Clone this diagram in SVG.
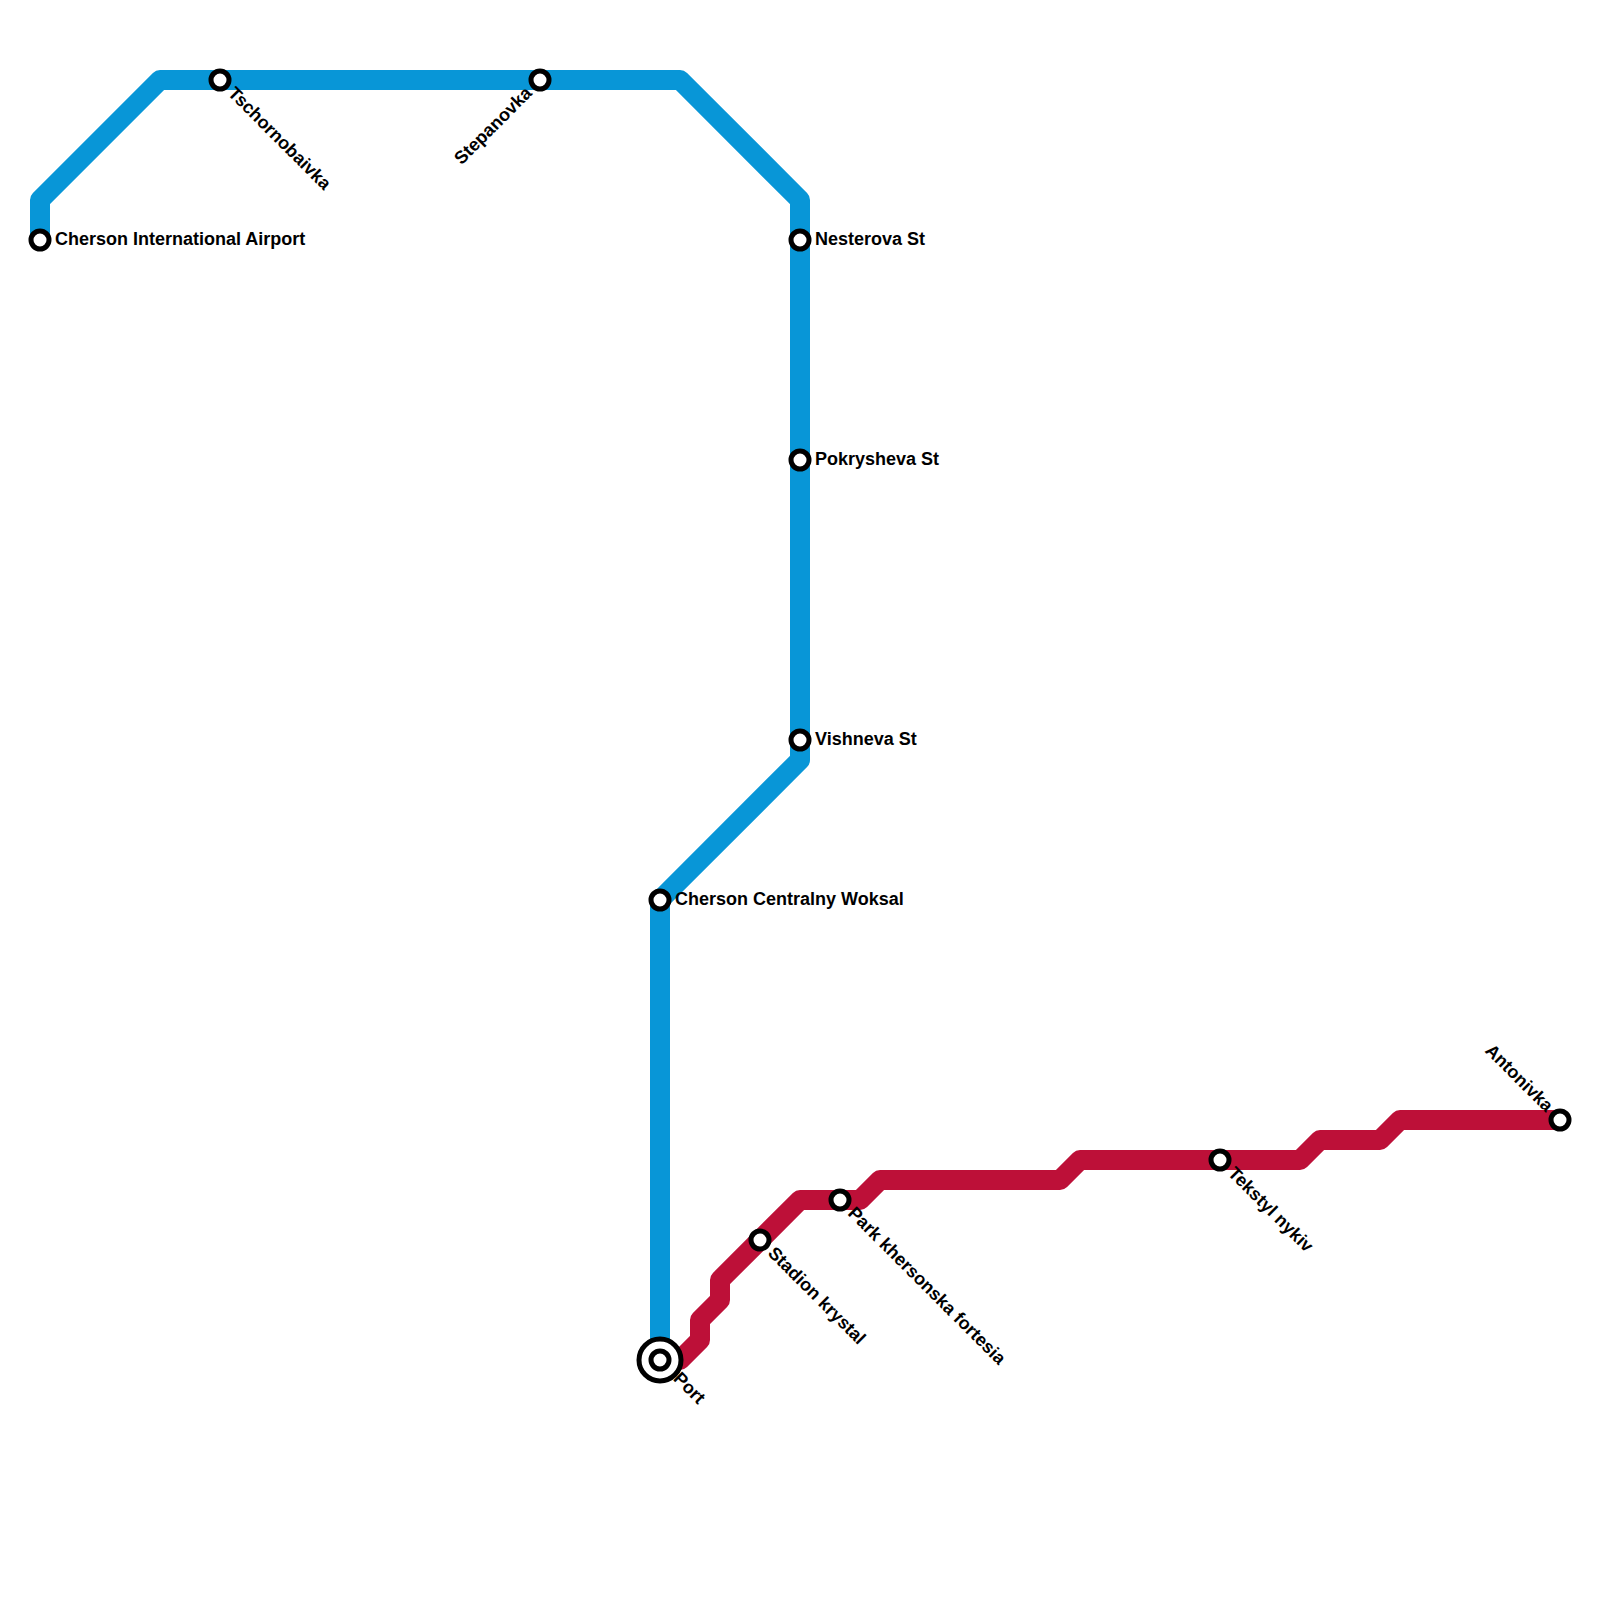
<svg xmlns="http://www.w3.org/2000/svg" width="1600" height="1600" viewBox="0 0 1600 1600">
<style>
.line{fill:none;stroke-width:20;stroke-linejoin:round}
.st{fill:#fff;stroke:#000;stroke-width:5}
text{font-family:"Liberation Sans",Arial,sans-serif;font-weight:700;font-size:18px;fill:#000}
.e{text-anchor:end}
</style>
<rect width="1600" height="1600" fill="#fff"/>
<g id="connectors">
<path class="line" stroke="#0896d7" d="M40 240V200L160 80H680L800 200V760L660 900V1360"/>
<path class="line" stroke="#bd1038" d="M660 1360H680L700 1340V1320L720 1300V1280L800 1200H860L880 1180H1060L1080 1160H1300L1320 1140H1380L1400 1120H1560"/>
</g>
<g id="airport"><circle class="st" cx="40" cy="240" r="9"/><text x="55" y="245">Cherson International Airport</text></g>
<g id="tschornobaivka"><circle class="st" cx="220" cy="80" r="9"/><text transform="translate(230.600 90.600) rotate(45)" x="0" y="5">Tschornobaivka</text></g>
<g id="stepanovka"><circle class="st" cx="540" cy="80" r="9"/><text class="e" transform="translate(529.400 90.600) rotate(-45)" x="0" y="5">Stepanovka</text></g>
<g id="nesterova"><circle class="st" cx="800" cy="240" r="9"/><text x="815" y="245">Nesterova St</text></g>
<g id="pokrysheva"><circle class="st" cx="800" cy="460" r="9"/><text x="815" y="465">Pokrysheva St</text></g>
<g id="vishneva"><circle class="st" cx="800" cy="740" r="9"/><text x="815" y="745">Vishneva St</text></g>
<g id="centralny"><circle class="st" cx="660" cy="900" r="9"/><text x="675" y="905">Cherson Centralny Woksal</text></g>
<g id="port"><circle class="st" cx="660" cy="1360" r="21"/><circle class="st" cx="660" cy="1360" r="9"/><text transform="translate(676 1376) rotate(45)" x="0" y="5">Port</text></g>
<g id="stadion"><circle class="st" cx="760" cy="1240" r="9"/><text transform="translate(770.600 1250.600) rotate(45)" x="0" y="5">Stadion krystal</text></g>
<g id="park"><circle class="st" cx="840" cy="1200" r="9"/><text transform="translate(850.600 1210.600) rotate(45)" x="0" y="5">Park khersonska fortesia</text></g>
<g id="tekstyl"><circle class="st" cx="1220" cy="1160" r="9"/><text transform="translate(1230.600 1170.600) rotate(45)" x="0" y="5">Tekstyl nykiv</text></g>
<g id="antonivka"><circle class="st" cx="1560" cy="1120" r="9"/><text class="e" transform="translate(1549.400 1109.400) rotate(45)" x="0" y="5">Antonivka</text></g>
</svg>
